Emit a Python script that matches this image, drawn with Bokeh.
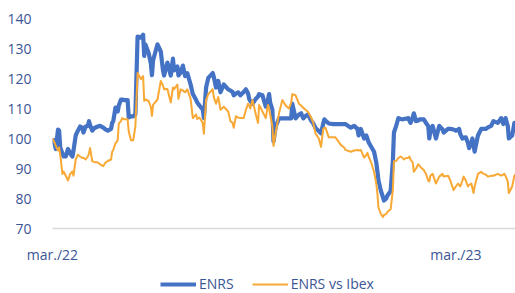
import pandas as pd
from bokeh.plotting import figure
from bokeh.layouts import column
from bokeh.models import FixedTicker, Legend, LegendItem, Range1d, ColumnDataSource
from bokeh.embed import file_html
from bokeh.resources import INLINE

start = "2022-03-01"
end_day = 419
days = [0, 2, 3, 5, 6, 7, 9, 10, 12, 14, 16, 18, 19, 21, 23, 25, 27, 28, 30, 32, 33, 34, 36, 38, 41, 43, 46, 48, 50, 53,
        54, 55, 57, 59, 60, 62, 63, 65, 68, 69, 71, 73, 75, 77, 80, 82, 83, 84, 87, 89, 90, 91, 95, 98, 100, 101, 104,
        107, 109, 110, 111, 113, 114, 116, 118, 120, 122, 125, 127, 130, 131, 133, 136, 137, 139, 141, 145, 146, 148,
        150, 152, 155, 159, 161, 163, 164, 166, 168, 170, 173, 175, 177, 178, 179, 181, 184, 186, 187, 190, 193, 195,
        196, 197, 199, 200, 202, 205, 208, 211, 214, 216, 217, 220, 223, 225, 226, 227, 229, 231, 232, 234, 236, 238,
        241, 243, 245, 246, 247, 250, 254, 256, 258, 261, 264, 265, 270, 273, 276, 277, 279, 282, 284, 285, 286, 288,
        291, 293, 294, 295, 297, 299, 300, 302, 303, 306, 308, 309, 311, 312, 313, 315, 317, 318, 320, 322, 323, 324,
        326, 327, 329, 331, 332, 333, 335, 336, 338, 340, 341, 342, 344, 347, 350, 353, 354, 358, 360, 363, 365, 367,
        368, 369, 371, 372, 374, 376, 377, 379, 380, 381, 382, 385, 388, 390, 392, 394, 397, 399, 403, 406, 408, 409,
        410, 412, 413, 416, 418, 419]
enrs = [100, 98, 96.5, 103, 102.6, 97, 95, 94, 94, 96.5, 95, 94, 96, 101, 102.6, 104, 103.6, 102, 104, 104.2, 105.8,
        104.5, 102.6, 103.5, 104, 104.2, 103.6, 103, 102.6, 103.2, 105.2, 105.8, 110.3, 109, 111, 113, 113, 112.8,
        112.8, 107, 107.4, 107.4, 108, 134, 133.6, 134.6, 127.5, 131.4, 128.5, 125, 121.1, 126, 131.4, 129, 122.7, 121,
        125.3, 121, 126.6, 122.7, 123.4, 124, 121, 122, 124.3, 120.8, 121.8, 118, 114.8, 112.8, 112, 111, 109.6, 106.8,
        117, 120.2, 121.8, 120.5, 117, 119.2, 115.4, 118, 116.4, 116, 115.5, 114.4, 115, 115.4, 114.4, 115.5, 116.4,
        115, 113.2, 112.5, 111.6, 113.2, 114, 114.8, 114.4, 110.6, 113, 114.8, 112, 109.6, 99, 104, 106.7, 106.7,
        106.7, 106.7, 106.7, 111.6, 106.7, 108, 108.4, 107.5, 106.7, 107.5, 108, 107.5, 106, 105, 103.5, 102.5, 101.7,
        105, 106.4, 106, 105, 104.8, 104.8, 104.8, 104.8, 104.8, 104.8, 103.6, 104.2, 103.2, 101, 103.2, 100, 101, 100,
        98.8, 97.5, 95.6, 92, 89.2, 86, 82.8, 80.5, 79.3, 80, 80.9, 82.5, 92.4, 102, 104.2, 105.5, 106.8, 106.5, 106.4,
        106.5, 106.6, 106.8, 106, 105.2, 107, 108.4, 105.8, 106, 106.4, 106.4, 106.4, 106.4, 105.2, 104.2, 100, 102.5,
        104.2, 100, 104.2, 103, 102, 103.2, 103.2, 103, 102.6, 103, 103.2, 101.5, 100, 100.2, 100.4, 98.5, 96.8, 98.5,
        100, 98, 95.6, 101, 103.2, 103.2, 103.2, 103.7, 104.2, 105.8, 105.2, 106.8, 104.8, 105.5, 106.8, 104.2, 100,
        101, 105.2, 105.2]
enrs_vs_ibex = [100, 98.5, 97.5, 96, 97, 94.6, 88.2, 89, 87.6, 86, 88.2, 89, 87.6, 93, 94.6, 94, 93.5, 93.6, 93, 94,
                95, 96.8, 92.4, 92.2, 92, 91.4, 90.8, 92, 92.5, 93, 95.6, 96.2, 98.4, 99.4, 105, 105.8, 106.8, 106.4,
                106.4, 102.3, 99.4, 99.4, 104, 121.8, 119.8, 120.8, 112.5, 113, 112.5, 110.5, 107.5, 111.2, 113, 119.2,
                117.6, 116.4, 116.5, 112, 117, 116.4, 117, 118, 113.2, 116.4, 116, 115.4, 116.4, 113.2, 106.8, 108,
                106.5, 107, 105.2, 101.6, 112.8, 114.8, 116.4, 113.8, 111.6, 113.8, 109.6, 110.6, 109, 105.8, 105.2,
                103.6, 107.4, 107, 106.8, 106.8, 109.5, 111.6, 111, 110, 112.8, 108, 105.2, 111.2, 109, 106.8, 111.2,
                110, 108, 104, 97.5, 102, 108.4, 112.8, 111, 110, 112, 114.8, 114.4, 111.6, 111, 110.6, 110.2, 109.6,
                109, 108.4, 107, 105.2, 101.7, 100, 97.2, 103.2, 103.5, 103.6, 100.4, 100.4, 100.4, 99.4, 97.8, 97,
                96.2, 95.6, 96, 96.2, 96, 96.2, 93.6, 94.5, 95.2, 94, 92.4, 88.9, 85, 81.8, 77, 75, 73.8, 74.5, 74.8,
                75.5, 76.4, 82.8, 92.4, 92.5, 93, 93.5, 94, 93.5, 93, 93.5, 93.5, 94, 93, 92, 88.9, 90, 91.4, 91, 90.5,
                89.8, 89.5, 88.2, 86, 85.7, 87.6, 88.2, 85, 87.3, 88.2, 87.3, 87.6, 86, 82.8, 84, 85, 84.5, 84, 86,
                87.3, 86, 84, 84.5, 85, 83.5, 81.8, 84, 88.2, 88.9, 88.2, 88, 87.3, 87.6, 87.6, 88.2, 87.6, 88, 88.2,
                87.5, 85.7, 81.8, 84, 87.6, 88]
series_names = ["ENRS", "ENRS vs Ibex"]
tick_dates = ["2022-03-01", "2023-03-01"]
tick_labels = ["mar./22", "mar./23"]
y_ticks = [70, 80, 90, 100, 110, 120, 130, 140]

t0 = pd.Timestamp(start)
dates = t0 + pd.to_timedelta(days, unit="D")
src = ColumnDataSource(dict(date=dates, enrs=enrs, ibex=enrs_vs_ibex))
x_rng = Range1d(t0, t0 + pd.Timedelta(days=end_day))

TXT = "#3A5594"
FONT = "Open Sans"
BLUE = "#4472C4"
ORANGE = "#F8A834"

p = figure(width=515, height=266, x_axis_type="datetime", output_backend="svg", toolbar_location=None,
           x_range=x_rng, y_range=Range1d(70, 140),
           min_border_left=52, min_border_right=0, min_border_top=18, min_border_bottom=29)
p.outline_line_color = None
p.xgrid.visible = False
p.ygrid.visible = False

p.line("date", "enrs", source=src, line_color=BLUE, line_width=4.2, line_join="round")
p.line("date", "ibex", source=src, line_color=ORANGE, line_width=2, line_join="round")

tick_ms = [pd.Timestamp(d).value / 1e6 for d in tick_dates]
p.xaxis.ticker = FixedTicker(ticks=tick_ms)
p.xaxis.major_label_overrides = {t: l for t, l in zip(tick_ms, tick_labels)}
p.yaxis.ticker = FixedTicker(ticks=y_ticks)

for ax in (p.xaxis[0], p.yaxis[0]):
    ax.major_tick_line_color = None
    ax.minor_tick_line_color = None
    ax.major_label_text_color = TXT
    ax.major_label_text_font = FONT
    ax.major_label_text_font_size = "14px"
p.xaxis.axis_line_color = "#D9D9D9"
p.xaxis.axis_line_width = 1.5
p.yaxis.axis_line_color = None
p.xaxis.major_label_standoff = 10
p.yaxis.major_label_standoff = 15

# legend strip below the chart (same series, drawn outside its visible y range)
leg = figure(width=515, height=27, x_axis_type="datetime", output_backend="svg", toolbar_location=None,
             x_range=x_rng, y_range=Range1d(0, 1), min_border=0,
             x_axis_location=None, y_axis_location=None)
leg.outline_line_color = None
leg.xgrid.visible = False
leg.ygrid.visible = False
l1 = leg.line("date", "enrs", source=src, line_color=BLUE, line_width=4.2)
l2 = leg.line("date", "ibex", source=src, line_color=ORANGE, line_width=2)
legend = Legend(items=[LegendItem(label=series_names[0], renderers=[l1]),
                       LegendItem(label=series_names[1], renderers=[l2])],
                location=(108, 0), orientation="horizontal",
                glyph_width=36, glyph_height=16, label_height=16, label_standoff=3, spacing=18,
                padding=0, margin=0, background_fill_alpha=0, border_line_alpha=0,
                label_text_color=TXT, label_text_font=FONT, label_text_font_size="14px")
leg.add_layout(legend, "center")

open("out.html", "w").write(file_html(column(p, leg), INLINE))
